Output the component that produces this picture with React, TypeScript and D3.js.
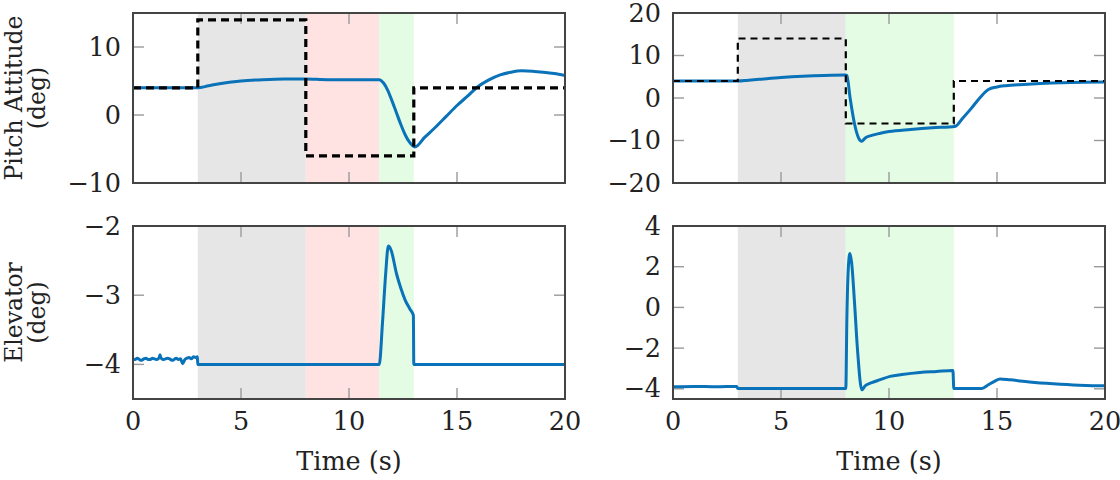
import React from 'react';
import * as d3 from 'd3';

// time axis
const timeDomain = [0, 20];
const timeTicks = [0, 5, 10, 15, 20];

// shaded phases (start, end, kind) for left / right runs
const leftPhaseStart = [3, 8, 11.4];
const leftPhaseEnd = [8, 11.4, 13];
const leftPhaseKind = ['hold', 'fault', 'recover'];
const rightPhaseStart = [3, 8];
const rightPhaseEnd = [8, 13];
const rightPhaseKind = ['hold', 'recover'];

// pitch reference (dashed)
const refT = [0, 3, 3, 8, 8, 13, 13, 20];
const refV = [4, 4, 14, 14, -6, -6, 4, 4];

// pitch attitude, left run
const pitchLeftT = [0, 3, 3.5, 4, 5, 6, 7, 8, 9, 10, 11, 11.4, 11.6, 11.8, 12, 12.2, 12.4, 12.6, 12.8, 13.05, 13.5, 14, 14.5, 15, 15.5, 15.9, 16.5, 17, 17.5, 18, 18.5, 19, 19.5, 20];
const pitchLeftV = [4, 4, 4.3, 4.6, 5.0, 5.2, 5.3, 5.3, 5.2, 5.2, 5.2, 5.2, 4.7, 3.6, 2.0, 0.3, -1.4, -2.9, -4.0, -4.7, -3.3, -1.8, -0.2, 1.4, 2.8, 4.0, 5.2, 5.9, 6.3, 6.5, 6.45, 6.3, 6.1, 5.8];

// pitch attitude, right run
const pitchRightT = [0, 3, 3.5, 4, 5, 6, 7, 8, 8.05, 8.2, 8.4, 8.6, 8.73, 8.9, 9.2, 9.6, 10, 11, 12, 13.05, 13.4, 13.8, 14.2, 14.6, 15, 15.4, 16.25, 17, 18, 19, 20];
const pitchRightV = [4, 4, 4.2, 4.4, 4.8, 5.1, 5.3, 5.4, 5.3, 0, -6, -9.5, -10.2, -9.4, -8.8, -8.3, -7.9, -7.4, -7.0, -6.7, -4.8, -2.5, 0, 2.0, 2.6, 2.9, 3.2, 3.4, 3.6, 3.7, 3.75];

// elevator, left run
const elevLeftT = [0, 0.1, 0.2, 0.3, 0.4, 0.5, 0.6, 0.7, 0.8, 0.9, 1.0, 1.1, 1.2, 1.25, 1.3, 1.4, 1.5, 1.6, 1.7, 1.8, 1.9, 2.0, 2.1, 2.2, 2.3, 2.4, 2.5, 2.6, 2.7, 2.8, 2.9, 2.98, 3.0, 11.4, 11.55, 11.7, 11.82, 11.95, 12.2, 12.4, 12.6, 12.82, 12.98, 13.0, 20];
const elevLeftV = [-3.92, -3.93, -3.91, -3.93, -3.94, -3.92, -3.91, -3.93, -3.93, -3.91, -3.92, -3.93, -3.91, -3.86, -3.91, -3.93, -3.92, -3.91, -3.92, -3.94, -3.93, -3.91, -3.93, -3.92, -3.99, -3.93, -3.91, -3.9, -3.92, -3.89, -3.9, -3.89, -4.0, -4.0, -3.4, -2.68, -2.29, -2.35, -2.69, -2.9, -3.07, -3.2, -3.29, -4.0, -4.0];

// elevator, right run
const elevRightT = [0, 1, 2, 2.95, 3.0, 8.0, 8.05, 8.12, 8.19, 8.27, 8.4, 8.55, 8.74, 8.9, 9.2, 9.6, 10.05, 10.6, 11.43, 12.2, 12.96, 13.0, 14.3, 14.6, 14.9, 15.14, 15.6, 16.5, 17.6, 18.8, 19.9, 20];
const elevRightV = [-3.9, -3.88, -3.9, -3.88, -3.99, -3.99, -0.5, 2.0, 2.65, 2.2, 0.3, -2.2, -4.05, -3.85, -3.7, -3.55, -3.39, -3.3, -3.2, -3.15, -3.1, -3.98, -3.98, -3.8, -3.62, -3.52, -3.56, -3.66, -3.75, -3.82, -3.85, -3.85];

// y axes
const pitchLeftDomain = [-10, 15];
const pitchLeftTicks = [-10, 0, 10];
const pitchRightDomain = [-20, 20];
const pitchRightTicks = [-20, -10, 0, 10, 20];
const elevLeftDomain = [-4.5, -2];
const elevLeftTicks = [-4, -3, -2];
const elevRightDomain = [-4.5, 4];
const elevRightTicks = [-4, -2, 0, 2, 4];

const phaseFill: Record<string, string> = { hold: '#e6e6e6', fault: '#ffe3e3', recover: '#e3fce3' };
const FONT = "'DejaVu Serif', serif";
const FS = 25.5;
const BLUE = '#0a72b8';

const fmt = (v: number) => (v < 0 ? '\u2212' + Math.abs(v) : String(v));

type PanelProps = {
  id: string;
  left: number;
  top: number;
  w: number;
  h: number;
  yDomain: number[];
  yTicks: number[];
  phaseStart: number[];
  phaseEnd: number[];
  phaseKind: string[];
  t: number[];
  v: number[];
  rt?: number[];
  rv?: number[];
  refWidth?: number;
  refDash?: string;
  showX: boolean;
};

function Panel(p: PanelProps) {
  const x = d3.scaleLinear().domain(timeDomain).range([p.left, p.left + p.w]);
  const y = d3.scaleLinear().domain(p.yDomain).range([p.top + p.h, p.top]);
  const mk = (ts: number[], curve: d3.CurveFactory) =>
    d3.line<number>().x((_, i) => x(ts[i])).y((d) => y(d)).curve(curve);
  const dataPath = mk(p.t, d3.curveMonotoneX)(p.v) || '';
  const refPath = p.rt && p.rv ? mk(p.rt, d3.curveLinear)(p.rv) || '' : '';
  const tickLen = 11;
  return (
    <g>
      <defs>
        <clipPath id={p.id}>
          <rect x={p.left} y={p.top} width={p.w} height={p.h} />
        </clipPath>
      </defs>
      {p.phaseStart.map((s, i) => (
        <rect key={i} x={x(s)} y={p.top} width={x(p.phaseEnd[i]) - x(s)} height={p.h} fill={phaseFill[p.phaseKind[i]]} />
      ))}
      {timeTicks.slice(1, -1).map((tk) => (
        <g key={tk} stroke="#9a9a9a" strokeWidth={1.4}>
          <line x1={x(tk)} x2={x(tk)} y1={p.top + p.h} y2={p.top + p.h - tickLen} />
          <line x1={x(tk)} x2={x(tk)} y1={p.top} y2={p.top + tickLen} />
        </g>
      ))}
      {p.yTicks.filter((tk) => y(tk) > p.top + 1 && y(tk) < p.top + p.h - 1).map((tk) => (
        <g key={tk} stroke="#9a9a9a" strokeWidth={1.4}>
          <line x1={p.left} x2={p.left + tickLen} y1={y(tk)} y2={y(tk)} />
          <line x1={p.left + p.w} x2={p.left + p.w - tickLen} y1={y(tk)} y2={y(tk)} />
        </g>
      ))}
      <g clipPath={`url(#${p.id})`}>
        <path d={dataPath} fill="none" stroke={BLUE} strokeWidth={3} strokeLinejoin="round" />
        {refPath && (
          <path d={refPath} fill="none" stroke="#000" strokeWidth={p.refWidth} strokeDasharray={p.refDash} />
        )}
      </g>
      <rect x={p.left} y={p.top} width={p.w} height={p.h} fill="none" stroke="#444" strokeWidth={2} />
      {p.yTicks.map((tk) => (
        <text key={tk} x={p.left - 12} y={y(tk)} dy="0.34em" textAnchor="end" fontFamily={FONT} fontSize={FS} fill="#222">
          {fmt(tk)}
        </text>
      ))}
      {p.showX &&
        timeTicks.map((tk) => (
          <text key={tk} x={x(tk)} y={430} textAnchor="middle" fontFamily={FONT} fontSize={FS} fill="#222">
            {fmt(tk)}
          </text>
        ))}
      {p.showX && (
        <text x={p.left + p.w / 2} y={470} textAnchor="middle" fontFamily={FONT} fontSize={FS} fill="#222">
          Time (s)
        </text>
      )}
    </g>
  );
}

export default function App() {
  const W = 432;
  const H = 173;
  const L1 = 133;
  const L2 = 673;
  const T1 = 13;
  const T2 = 226;
  const H1 = 170;
  return (
    <svg width={1120} height={480} style={{ position: 'absolute', left: 0, top: 0, background: '#fff' }}>
      <Panel id="c1" left={L1} top={T1} w={W} h={H1} yDomain={pitchLeftDomain} yTicks={pitchLeftTicks}
        phaseStart={leftPhaseStart} phaseEnd={leftPhaseEnd} phaseKind={leftPhaseKind}
        t={pitchLeftT} v={pitchLeftV} rt={refT} rv={refV} refWidth={3.2} refDash="8 5" showX={false} />
      <Panel id="c2" left={L2} top={T1} w={W} h={H1} yDomain={pitchRightDomain} yTicks={pitchRightTicks}
        phaseStart={rightPhaseStart} phaseEnd={rightPhaseEnd} phaseKind={rightPhaseKind}
        t={pitchRightT} v={pitchRightV} rt={refT} rv={refV} refWidth={2.2} refDash="7 5" showX={false} />
      <Panel id="c3" left={L1} top={T2} w={W} h={H} yDomain={elevLeftDomain} yTicks={elevLeftTicks}
        phaseStart={leftPhaseStart} phaseEnd={leftPhaseEnd} phaseKind={leftPhaseKind}
        t={elevLeftT} v={elevLeftV} showX={true} />
      <Panel id="c4" left={L2} top={T2} w={W} h={H} yDomain={elevRightDomain} yTicks={elevRightTicks}
        phaseStart={rightPhaseStart} phaseEnd={rightPhaseEnd} phaseKind={rightPhaseKind}
        t={elevRightT} v={elevRightV} showX={true} />
      <g fontFamily={FONT} fontSize={23.5} fill="#222" textAnchor="middle">
        <text transform={`translate(22,${T1 + H1 / 2}) rotate(-90)`}>Pitch Attitude</text>
        <text transform={`translate(45,${T1 + H1 / 2}) rotate(-90)`}>(deg)</text>
        <text transform={`translate(22,${T2 + H / 2}) rotate(-90)`}>Elevator</text>
        <text transform={`translate(45,${T2 + H / 2}) rotate(-90)`}>(deg)</text>
      </g>
    </svg>
  );
}
